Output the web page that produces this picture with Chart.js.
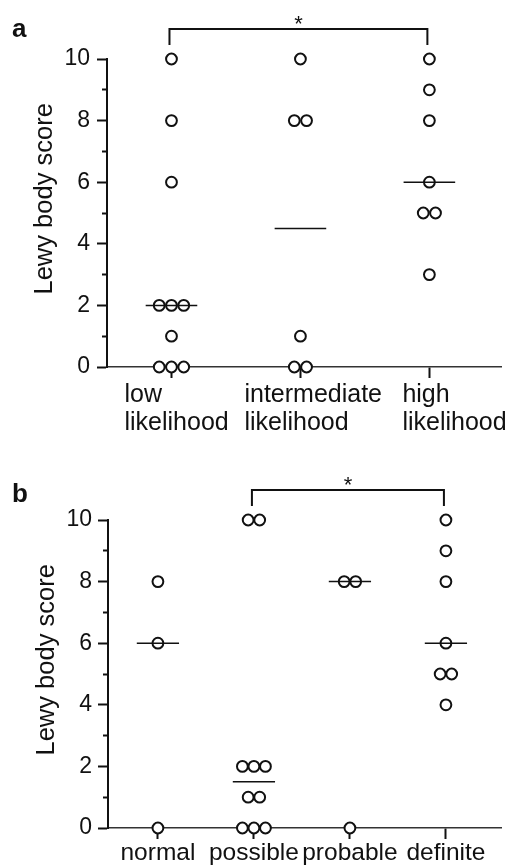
<!DOCTYPE html>
<html>
<head>
<meta charset="utf-8">
<script src="https://cdn.jsdelivr.net/npm/chart.js@4.4.0/dist/chart.umd.min.js"></script>
<style>
  body { margin: 0; background: #fff; }
  .panel { position: absolute; left: 0; width: 509px; }
</style>
</head>
<body>
<div class="panel" style="top:0;height:440px"><canvas id="chartA"></canvas></div>
<div class="panel" style="top:440px;height:426px"><canvas id="chartB"></canvas></div>
<script>
// panel a: CERAD likelihood groups
var catsA = [['low', 'likelihood'], ['intermediate', 'likelihood'], ['high', 'likelihood']];
var lowLikelihood = [10, 8, 6, 2, 2, 2, 1, 0, 0, 0];
var intermediateLikelihood = [10, 8, 8, 1, 0, 0];
var highLikelihood = [10, 9, 8, 6, 5, 5, 3];

// panel b: diagnostic groups
var catsB = ['normal', 'possible', 'probable', 'definite'];
var normal = [8, 6, 0];
var possible = [10, 10, 2, 2, 2, 1, 1, 0, 0, 0];
var probable = [8, 8, 0];
var definite = [10, 9, 8, 6, 5, 5, 4];

var yTicks = [0, 2, 4, 6, 8, 10];

var FONT = '"Liberation Sans", Arial, Helvetica, sans-serif';
var INK = '#111';

function median(arr) {
    var s = arr.slice().sort(function (a, b) { return a - b; });
    var m = Math.floor(s.length / 2);
    return s.length % 2 ? s[m] : (s[m - 1] + s[m]) / 2;
}

// put equal scores side by side around the group centre
function dotPoints(values, index, spread) {
    var counts = {}, seen = {};
    values.forEach(function (v) { counts[v] = (counts[v] || 0) + 1; });
    return values.map(function (v) {
        var k = seen[v] || 0;
        seen[v] = k + 1;
        return { x: index + (k - (counts[v] - 1) / 2) * spread, y: v };
    });
}

function buildDatasets(groups, spread, halfWidth) {
    var sets = [];
    groups.forEach(function (values, i) {
        sets.push({
            data: dotPoints(values, i, spread),
            pointRadius: 5.4,
            pointBorderWidth: 2,
            pointBorderColor: INK,
            pointBackgroundColor: '#fff',
            clip: false,
            order: 2
        });
        var m = median(values);
        sets.push({
            data: [{ x: i - halfWidth, y: m }, { x: i + halfWidth, y: m }],
            showLine: true,
            pointRadius: 0,
            borderColor: INK,
            borderWidth: 1.5,
            clip: false,
            order: 1
        });
    });
    return sets;
}

// panel letter, significance bracket and (for panel a) two-line group labels
var annotate = {
    id: 'annotate',
    afterDraw: function (chart, args, opts) {
        var ctx = chart.ctx, x = chart.scales.x, area = chart.chartArea;
        ctx.save();
        ctx.fillStyle = INK;
        ctx.strokeStyle = INK;
        ctx.textBaseline = 'alphabetic';

        ctx.font = 'bold 26px ' + FONT;
        ctx.textAlign = 'left';
        ctx.fillText(opts.letter, 12, opts.letterY);

        var x1 = x.getPixelForValue(opts.bracket[0]) - 2;
        var x2 = x.getPixelForValue(opts.bracket[1]) - 2;
        var yTop = area.top - 30, yLow = area.top - 14;
        ctx.lineWidth = 2;
        ctx.beginPath();
        ctx.moveTo(x1, yLow);
        ctx.lineTo(x1, yTop);
        ctx.lineTo(x2, yTop);
        ctx.lineTo(x2, yLow);
        ctx.stroke();
        ctx.font = '22px ' + FONT;
        ctx.textAlign = 'center';
        ctx.fillText('*', (x1 + x2) / 2, yTop + 2);

        if (opts.lines) {
            ctx.font = '25px ' + FONT;
            ctx.textAlign = 'left';
            opts.lines.forEach(function (lines, i) {
                var px = x.getPixelForValue(i) + opts.shift[i];
                lines.forEach(function (t, j) {
                    ctx.fillText(t, px, area.bottom + 35 + j * 28);
                });
            });
        }
        ctx.restore();
    }
};

function makeChart(id, cats, groups, cfg) {
    var ctx = document.getElementById(id).getContext('2d');
    return new Chart(ctx, {
        type: 'scatter',
        data: { datasets: buildDatasets(groups, cfg.spread, cfg.halfWidth) },
        plugins: [annotate],
        options: {
            responsive: true,
            maintainAspectRatio: false,
            animation: false,
            layout: { padding: { top: cfg.top, right: cfg.right, left: 0, bottom: 0 } },
            scales: {
                x: {
                    type: 'linear',
                    min: cfg.xMin,
                    max: cfg.xMax,
                    afterBuildTicks: function (s) {
                        s.ticks = cats.map(function (c, i) { return { value: i }; });
                    },
                    afterFit: function (s) { s.height = cfg.xHeight; },
                    ticks: {
                        display: !cfg.multiLine,
                        padding: 0,
                        color: INK,
                        font: { family: FONT, size: 24.5 },
                        callback: function (v, i) { return cats[i]; }
                    },
                    grid: { drawOnChartArea: false, tickLength: 11, tickWidth: 2, tickColor: INK },
                    border: { color: '#333', width: 1.5 }
                },
                y: {
                    type: 'linear',
                    min: 0,
                    max: 10,
                    afterFit: function (s) { s.width = cfg.yWidth; },
                    ticks: {
                        stepSize: 1,
                        padding: cfg.tickPad,
                        color: INK,
                        font: { family: FONT, size: 23 },
                        callback: function (v) { return yTicks.indexOf(v) >= 0 ? v : ''; }
                    },
                    grid: {
                        drawOnChartArea: false,
                        tickLength: 10,
                        tickWidth: 2,
                        tickColor: INK,
                        // minor ticks at odd scores: only the half next to the axis
                        tickBorderDash: [10, 10],
                        tickBorderDashOffset: function (c) {
                            return c.tick && yTicks.indexOf(c.tick.value) < 0 ? 15 : 0;
                        }
                    },
                    border: { color: INK, width: 2 },
                    title: {
                        display: true,
                        text: '    Lewy body score',
                        color: INK,
                        font: { family: FONT, size: 25.5 },
                        padding: { top: cfg.titlePad, bottom: 0 }
                    }
                }
            },
            plugins: {
                legend: { display: false },
                tooltip: { enabled: false },
                annotate: cfg.annotate
            }
        }
    });
}

makeChart('chartA', catsA, [lowLikelihood, intermediateLikelihood, highLikelihood], {
    spread: 0.095, halfWidth: 0.2,
    xMin: -0.5, xMax: 2.56,
    top: 59, right: 7, xHeight: 73, yWidth: 107, tickPad: 7, titlePad: 30,
    multiLine: true,
    annotate: { letter: 'a', letterY: 37, bracket: [0, 2], lines: catsA, shift: [-47, -56, -27] }
});

makeChart('chartB', catsB, [normal, possible, probable, definite], {
    spread: 0.12, halfWidth: 0.22,
    xMin: -0.52, xMax: 3.58,
    top: 80, right: 4, xHeight: 38, yWidth: 108, tickPad: 6, titlePad: 31.5,
    multiLine: false,
    annotate: { letter: 'b', letterY: 62, bracket: [1, 3] }
});
</script>
</body>
</html>
